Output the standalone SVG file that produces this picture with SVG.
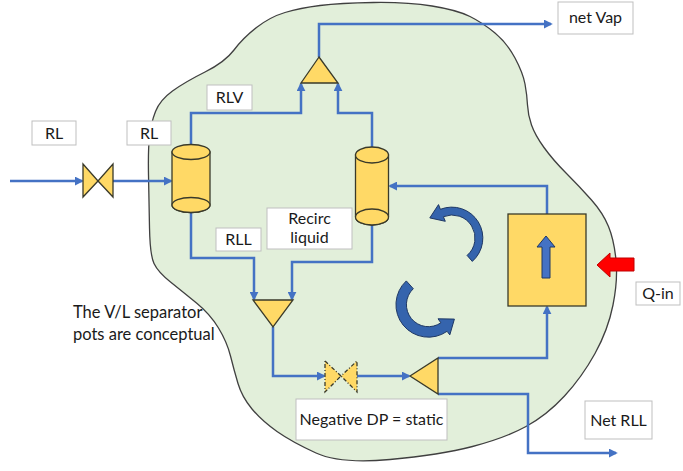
<svg xmlns="http://www.w3.org/2000/svg" width="683" height="471" viewBox="0 0 683 471">
<style>
  .lbl{fill:#ffffff;stroke:#bfbfbf;stroke-width:1}
  .t{font-family:Lato,"Liberation Sans",sans-serif;font-size:16px;fill:#1a1a1a;text-anchor:middle}
  .tl{font-family:Lato,"Liberation Sans",sans-serif;font-size:16.5px;fill:#1a1a1a}
  .yel{fill:#ffd966;stroke:#3a3a2a;stroke-width:1.3}
  .con{fill:none;stroke:#4472c4;stroke-width:2.5;marker-end:url(#ah)}
  .curv{fill:#3564ad;stroke:#1f3864;stroke-width:1}
</style>
<defs>
  <marker id="ah" viewBox="0 0 10 10" refX="8" refY="5" markerWidth="9" markerHeight="9" markerUnits="userSpaceOnUse" orient="auto">
    <path d="M0,0 L10,5 L0,10 z" fill="#4472c4"/>
  </marker>
</defs>
<rect width="683" height="471" fill="#ffffff"/>
<g id="boundary">
  <path d="M 373.5 2.5 Q 407 2 432 6 Q 457 10 470 16.5 Q 483 23 495 33 Q 507 43 515 58 Q 523 73 525 84 Q 527 95 527.5 105 Q 528 115 531.5 125 Q 535 135 544 147.5 Q 553 160 566.5 173.5 Q 580 187 591.5 200 Q 603 213 608.5 226.5 Q 614 240 616 260 Q 618 280 613 305 Q 608 330 595 353.5 Q 582 377 564.5 396 Q 547 415 526 426.5 Q 505 438 472.5 446.5 Q 440 455 390 459.5 Q 340 464 316 453 Q 292 442 277 431.5 Q 262 421 252 409 Q 242 397 238 383.5 Q 234 370 230.5 356 Q 227 342 218.5 328 Q 210 314 196.5 303 Q 183 292 170.5 282 Q 158 272 154 263.5 Q 150 255 149.5 227.5 Q 149 200 148.5 175 Q 148 150 149.5 136.5 Q 151 123 155.5 111.5 Q 160 100 172.5 91 Q 185 82 205 72 Q 225 62 234 50 Q 243 38 256.5 27.5 Q 270 17 285 12.5 Q 300 8 320 5.5 Q 340 3 373.5 2.5 Z" fill="#e2efda" stroke="#404040" stroke-width="1.3"/>
</g>
<g id="connectors">
  <path class="con" d="M 10 181 H 82"/>
  <path class="con" d="M 113 181 H 171"/>
  <path class="con" d="M 191 145 V 113 H 301 V 84"/>
  <path class="con" d="M 372 147 V 113 H 338 V 84"/>
  <path class="con" d="M 319 57 V 24 H 551"/>
  <path class="con" d="M 191 213 V 258 H 254 V 299"/>
  <path class="con" d="M 372 225 V 262 H 292 V 299"/>
  <path class="con" d="M 273 327 V 376 H 324"/>
  <path class="con" d="M 357 376 H 409"/>
  <path class="con" d="M 438 358 H 547 V 307"/>
  <path class="con" d="M 547 214 V 186 H 390"/>
  <path class="con" d="M 438 394 H 528 V 453 H 616"/>
</g>
<g id="valve-in">
  <path class="yel" d="M83 164 L98 181 L113 164 L113 197 L98 181 L83 197 Z"/>
</g>
<g id="valve-dp">
  <path d="M325 361 L341 376 L357 361 L357 392 L341 376 L325 392 Z" fill="#ffd966" stroke="#3a3a2a" stroke-width="1.3" stroke-dasharray="4 2 1 2"/>
</g>
<g id="pot-1">
  <path class="yel" d="M172 152 V205 A19 7.5 0 0 0 210 205 V152 Z"/>
  <ellipse class="yel" cx="191" cy="152" rx="19" ry="7.5"/>
  <ellipse class="yel" cx="191" cy="205" rx="19" ry="7.5"/>
</g>
<g id="pot-2">
  <path class="yel" d="M355.5 155 V217 A16.5 8 0 0 0 388.5 217 V155 Z"/>
  <ellipse class="yel" cx="372" cy="155" rx="16.5" ry="8"/>
  <ellipse class="yel" cx="372" cy="217" rx="16.5" ry="8"/>
</g>
<g id="mixer-top">
  <path class="yel" d="M319 57 L338 83 L301 83 Z"/>
</g>
<g id="mixer-bottom">
  <path class="yel" d="M253 300 L293 300 L273 327 Z"/>
</g>
<g id="splitter">
  <path class="yel" d="M410 376 L438 358 L438 394 Z"/>
</g>
<g id="heater">
  <rect class="yel" x="508" y="214" width="78" height="92"/>
  <path d="M542 278 V247 H537 L546 236 L555 247 H550 V278 Z" fill="#4472c4" stroke="#1f3864" stroke-width="1"/>
</g>
<g id="heat-arrow">
  <path d="M597 265 L610 253 V258 H634 V271 H610 V277 Z" fill="#ff0000" stroke="#c00000" stroke-width="1"/>
</g>
<g id="circulation">
  <path class="curv" d="M 472.3 261.4 A 31 31 0 0 0 440.4 209.3 L 438.5 204.6 L 429.8 217.9 L 445.3 221.3 L 443.4 216.7 A 23 23 0 0 1 467.1 255.4 Z"/>
  <path class="curv" d="M 406.3 280.9 A 32.5 32.5 0 0 0 447.1 331.3 L 449.8 334.9 L 454.4 319.1 L 438.0 318.8 L 440.9 322.8 A 22 22 0 0 1 413.3 288.7 Z"/>
</g>
<g id="label-rl-in">
  <rect class="lbl" x="32" y="121" width="44" height="24"/>
  <text class="t" x="54" y="139">RL</text>
</g>
<g id="label-rl">
  <rect class="lbl" x="127" y="121" width="44" height="24"/>
  <text class="t" x="149" y="139">RL</text>
</g>
<g id="label-rlv">
  <rect class="lbl" x="207" y="85" width="45" height="25"/>
  <text class="t" x="229.5" y="103">RLV</text>
</g>
<g id="label-netvap">
  <rect class="lbl" x="558" y="2" width="75" height="32"/>
  <text class="t" x="595.5" y="23">net Vap</text>
</g>
<g id="label-rll">
  <rect class="lbl" x="216" y="228" width="45" height="23"/>
  <text class="t" x="238.5" y="245">RLL</text>
</g>
<g id="label-recirc">
  <rect class="lbl" x="267" y="208" width="85" height="41"/>
  <text class="t" x="309.5" y="224">Recirc</text>
  <text class="t" x="309.5" y="243">liquid</text>
</g>
<g id="label-dp">
  <rect class="lbl" x="296" y="399" width="151" height="41"/>
  <text class="t" x="371.5" y="425">Negative DP = static</text>
</g>
<g id="label-netrll">
  <rect class="lbl" x="585" y="401" width="67" height="38"/>
  <text class="t" x="618.5" y="426">Net RLL</text>
</g>
<g id="label-qin">
  <rect class="lbl" x="636" y="282" width="44" height="23"/>
  <text class="t" x="658" y="299">Q-in</text>
</g>
<g id="note">
  <text class="tl" x="73" y="318">The V/L separator</text>
  <text class="tl" x="73" y="340">pots are conceptual</text>
</g>
</svg>
